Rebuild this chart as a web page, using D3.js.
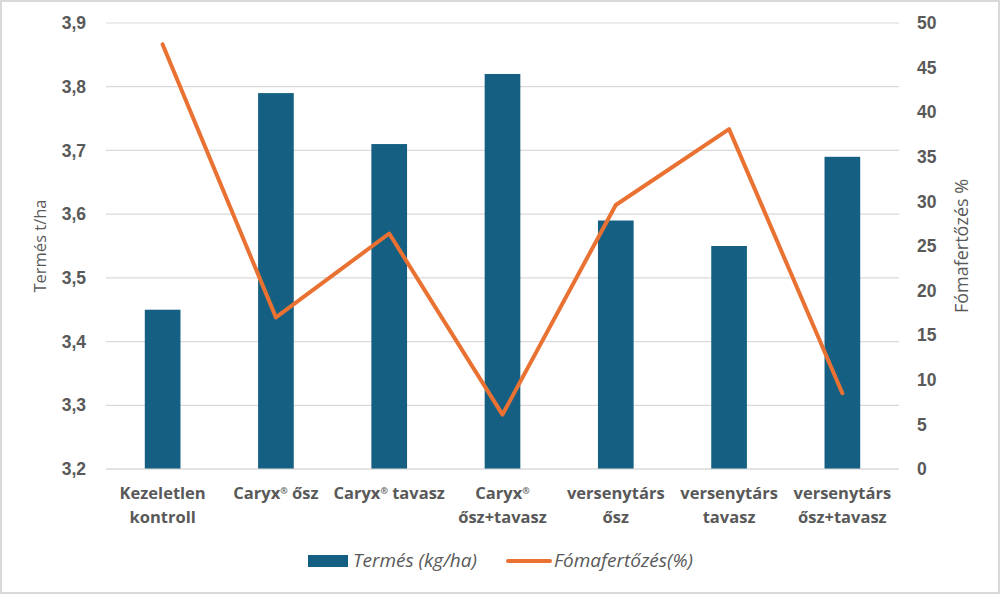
<!DOCTYPE html>
<html>
<head>
<meta charset="utf-8">
<script src="https://cdn.jsdelivr.net/npm/d3@7"></script>
<style>
  body { margin: 0; background: #fff; }
  svg { display: block; font-family: "Open Sans", "Liberation Sans", sans-serif; }
</style>
</head>
<body>
<div id="chart"></div>
<script>
// chart data
const categories = [
    ["Kezeletlen", "kontroll"],
    ["Caryx® ősz"],
    ["Caryx® tavasz"],
    ["Caryx®", "ősz+tavasz"],
    ["versenytárs", "ősz"],
    ["versenytárs", "tavasz"],
    ["versenytárs", "ősz+tavasz"]
]
const yieldValues = [3.45, 3.79, 3.71, 3.82, 3.59, 3.55, 3.69]
const infectionValues = [47.6, 17.0, 26.4, 6.1, 29.6, 38.1, 8.5]
const leftTicks = [3.2, 3.3, 3.4, 3.5, 3.6, 3.7, 3.8, 3.9]
const rightTicks = [0, 5, 10, 15, 20, 25, 30, 35, 40, 45, 50]
const seriesNames = ["Termés (kg/ha)", "Fómafertőzés(%)"]

const width = 1000,
    height = 594,
    margin = { top: 23, right: 101, bottom: 125, left: 106 }

const barColor = "#156082",
    lineColor = "#e97132",
    textColor = "#595959",
    gridColor = "#d9d9d9"

const svg = d3.select("#chart").append("svg")
    .attr("width", width)
    .attr("height", height)

svg.append("rect")
    .attr("x", 1).attr("y", 1)
    .attr("width", width - 2).attr("height", height - 2)
    .attr("fill", "#fff")
    .attr("stroke", gridColor)
    .attr("stroke-width", 2)

const x = d3.scaleBand()
    .domain(d3.range(categories.length))
    .range([margin.left, width - margin.right])
    .paddingInner(0.685)
    .paddingOuter(0.3425)

const yLeft = d3.scaleLinear()
    .domain([3.2, 3.9])
    .range([height - margin.bottom, margin.top])

const yRight = d3.scaleLinear()
    .domain([0, 50])
    .range([height - margin.bottom, margin.top])

const fmt = d => d.toFixed(1).replace(".", ",")

// gridlines
svg.append("g")
    .selectAll("line")
    .data(leftTicks)
    .join("line")
    .attr("x1", margin.left)
    .attr("x2", width - margin.right)
    .attr("y1", d => yLeft(d))
    .attr("y2", d => yLeft(d))
    .attr("stroke", gridColor)
    .attr("stroke-width", 1.2)

// left axis
const leftAxis = svg.append("g")
    .attr("transform", `translate(${margin.left - 20},0)`)
    .call(d3.axisLeft(yLeft).tickValues(leftTicks).tickFormat(fmt).tickSize(0).tickPadding(0))
leftAxis.select(".domain").remove()
leftAxis.selectAll("text")
    .attr("fill", textColor)
    .attr("font-size", 17.5)
    .attr("font-weight", "bold")
    .attr("font-family", "Liberation Sans, sans-serif")

// right axis
const rightAxis = svg.append("g")
    .attr("transform", `translate(${width - margin.right + 18},0)`)
    .call(d3.axisRight(yRight).tickValues(rightTicks).tickSize(0).tickPadding(0))
rightAxis.select(".domain").remove()
rightAxis.selectAll("text")
    .attr("fill", textColor)
    .attr("font-size", 17.5)
    .attr("font-weight", "bold")
    .attr("font-family", "Liberation Sans, sans-serif")

// axis titles
svg.append("text")
    .attr("transform", `translate(46,${(margin.top + height - margin.bottom) / 2}) rotate(-90)`)
    .attr("text-anchor", "middle")
    .attr("fill", textColor)
    .attr("font-size", 16.5)
    .text("Termés t/ha")

svg.append("text")
    .attr("transform", `translate(968,${(margin.top + height - margin.bottom) / 2}) rotate(-90)`)
    .attr("text-anchor", "middle")
    .attr("fill", textColor)
    .attr("font-size", 18)
    .text("Fómafertőzés %")

// bars
svg.append("g")
    .selectAll("rect")
    .data(yieldValues)
    .join("rect")
    .attr("x", (d, i) => x(i))
    .attr("width", x.bandwidth())
    .attr("y", d => yLeft(d))
    .attr("height", d => yLeft(3.2) - yLeft(d))
    .attr("fill", barColor)

// baseline
svg.append("line")
    .attr("x1", margin.left)
    .attr("x2", width - margin.right)
    .attr("y1", yLeft(3.2))
    .attr("y2", yLeft(3.2))
    .attr("stroke", gridColor)
    .attr("stroke-width", 1.2)

// line
const line = d3.line()
    .x((d, i) => x(i) + x.bandwidth() / 2)
    .y(d => yRight(d))

svg.append("path")
    .datum(infectionValues)
    .attr("d", line)
    .attr("fill", "none")
    .attr("stroke", lineColor)
    .attr("stroke-width", 4)
    .attr("stroke-linecap", "round")
    .attr("stroke-linejoin", "round")

// category labels, one text per row; ® drawn as small superscript
const catGroup = svg.append("g")
    .attr("text-anchor", "middle")
    .attr("fill", textColor)
    .attr("font-size", 16.5)
    .attr("font-weight", 700)

categories.forEach((lines, i) => {
    const cx = x(i) + x.bandwidth() / 2
    lines.forEach((txt, r) => {
        const row = catGroup.append("text")
            .attr("x", cx)
            .attr("y", 499 + r * 24)
        txt.split("®").forEach((p, j) => {
            if (j > 0) {
                row.append("tspan").attr("font-size", 9).attr("dy", -5).text("®")
                row.append("tspan").attr("dy", 5).text(p)
            } else {
                row.append("tspan").text(p)
            }
        })
    })
})

// legend
const legend = svg.append("g")
    .attr("font-size", 19)
    .attr("font-style", "italic")
    .attr("fill", textColor)

legend.append("rect")
    .attr("x", 308).attr("y", 555)
    .attr("width", 40).attr("height", 12)
    .attr("fill", barColor)
legend.append("text")
    .attr("x", 353).attr("y", 567)
    .text(seriesNames[0])

legend.append("line")
    .attr("x1", 508).attr("x2", 550)
    .attr("y1", 561).attr("y2", 561)
    .attr("stroke", lineColor)
    .attr("stroke-width", 4)
    .attr("stroke-linecap", "round")
legend.append("text")
    .attr("x", 554).attr("y", 567)
    .text(seriesNames[1])
</script>
</body>
</html>
